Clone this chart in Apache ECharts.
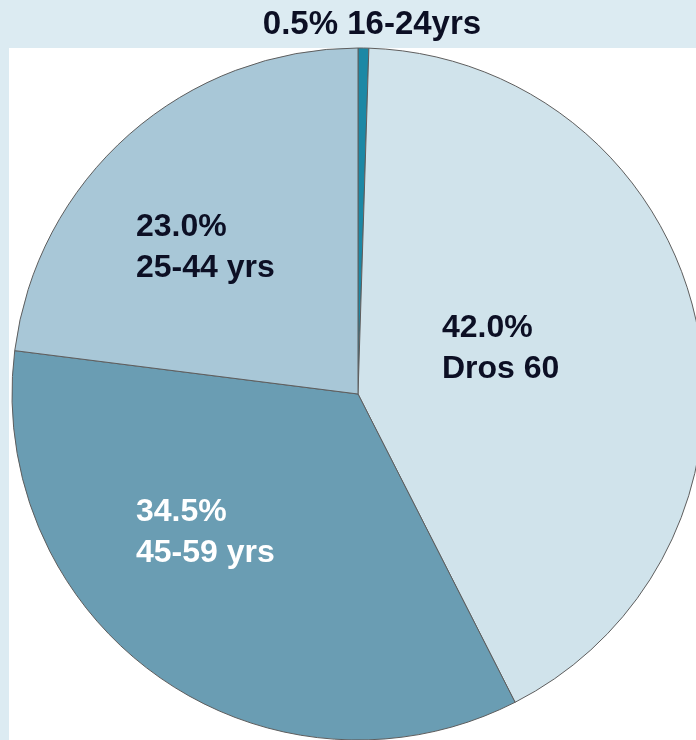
<!DOCTYPE html>
<html>
<head>
<meta charset="utf-8">
<script src="https://cdn.jsdelivr.net/npm/echarts@6/dist/echarts.min.js"></script>
<style>
html,body{margin:0;padding:0;background:#dcebf2;}
#chart{width:696px;height:740px;}
</style>
</head>
<body>
<div id="chart"></div>
<script>
// Data
const categories = ['16-24yrs', 'Dros 60', '45-59 yrs', '25-44 yrs'];
const shares = [0.5, 42.0, 34.5, 23.0];

// Styles (kept apart from data)
const sliceColors = ['#1c88a5', '#d0e3eb', '#6a9db3', '#a8c7d7'];
const labelColors = ['#0c0f24', '#0c0f24', '#ffffff', '#0c0f24'];
const labelPos = [
  {x: 372, y: 25, align: 'center', verticalAlign: 'middle'},
  {x: 442, y: 308, align: 'left', verticalAlign: 'top'},
  {x: 136, y: 492, align: 'left', verticalAlign: 'top'},
  {x: 136, y: 207, align: 'left', verticalAlign: 'top'}
];

const chart = echarts.init(document.getElementById('chart'), null, {renderer: 'canvas'});

const data = categories.map((name, i) => ({
  name: name,
  value: shares[i],
  itemStyle: {color: sliceColors[i]},
  label: {
    color: labelColors[i],
    fontSize: i === 0 ? 33 : 32,
    lineHeight: 41
  }
}));

chart.setOption({
  backgroundColor: '#dcebf2',
  animation: false,
  graphic: [
    {type: 'rect', shape: {x: 9, y: 48, width: 700, height: 700}, style: {fill: '#ffffff'}, z: 0}
  ],
  series: [{
    type: 'pie',
    center: [358, 394],
    radius: [0, 346],
    startAngle: 90,
    clockwise: true,
    avoidLabelOverlap: false,
    itemStyle: {borderColor: '#5e5e5e', borderWidth: 1},
    label: {
      show: true,
      position: 'inside',
      fontFamily: 'Liberation Sans, Arial, sans-serif',
      fontWeight: 'bold',
      formatter: p => p.value.toFixed(1) + '%' + (p.dataIndex === 0 ? ' ' : '\n') + p.name
    },
    labelLine: {show: false},
    labelLayout: params => {
      const lp = labelPos[params.dataIndex];
      return {x: lp.x, y: lp.y, align: lp.align, verticalAlign: lp.verticalAlign};
    },
    emphasis: {disabled: true},
    data: data
  }]
});
</script>
</body>
</html>
